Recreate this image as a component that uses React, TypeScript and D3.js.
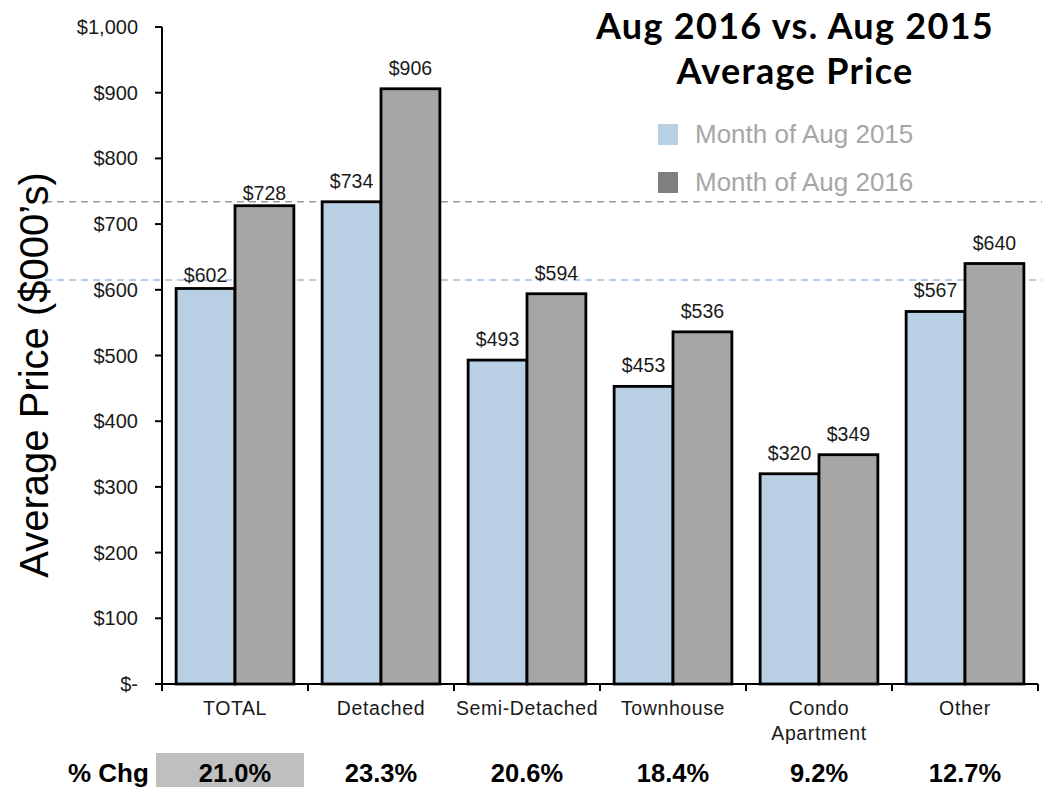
import React from "react";
import * as d3 from "d3";

const categories = ["TOTAL", "Detached", "Semi-Detached", "Townhouse", "Condo Apartment", "Other"];
const categoryLines = [["TOTAL"], ["Detached"], ["Semi-Detached"], ["Townhouse"], ["Condo", "Apartment"], ["Other"]];
const series2015 = [602, 734, 493, 453, 320, 567];
const series2016 = [728, 906, 594, 536, 349, 640];
const pctChange = ["21.0%", "23.3%", "20.6%", "18.4%", "9.2%", "12.7%"];
const yTicks = [0, 100, 200, 300, 400, 500, 600, 700, 800, 900, 1000];
const seriesNames = ["Month of Aug 2015", "Month of Aug 2016"];
const refLines = [
  { value: 734, color: "#9a9a9a" },
  { value: 615, color: "#9dbde0" },
];

const W = 1042;
const H = 787;
const COLORS = ["#b9cfe4", "#a6a6a6"];

const fmtTick = (v: number) => (v === 0 ? "$-" : "$" + d3.format(",")(v));

export default function App() {
  const y = d3.scaleLinear().domain([0, 1000]).range([684, 27]);
  const x = d3.scaleBand<string>().domain(categories).range([162, 1038]).paddingInner(0).paddingOuter(0);
  const sub = d3
    .scaleBand<string>()
    .domain(["2015", "2016"])
    .range([0, x.bandwidth()])
    .paddingInner(0)
    .paddingOuter(0.24);
  const series = [series2015, series2016];
  const keys = ["2015", "2016"];
  const boundaries = [...categories.map((c) => x(c) as number), x.range()[1]];
  const font = "Arial, 'Liberation Sans', sans-serif";
  const titleFont = "Lato, 'Open Sans', sans-serif";

  return (
    <svg
      width={W}
      height={H}
      style={{ position: "absolute", left: 0, top: 0, background: "#fff" }}
      fontFamily={font}
    >
      {/* reference dashed lines */}
      {refLines.map((r, i) => (
        <line
          key={"ref" + i}
          x1={45}
          x2={W}
          y1={y(r.value)}
          y2={y(r.value)}
          stroke={r.color}
          strokeWidth={1.5}
          strokeDasharray="7,5"
        />
      ))}

      {/* bars */}
      {categories.map((c, ci) =>
        keys.map((k, si) => {
          const v = series[si][ci];
          const bx = (x(c) as number) + (sub(k) as number);
          const bw = sub.bandwidth();
          const gap = ci === 0 ? 6 : 14;
          return (
            <g key={c + k}>
              <rect
                x={bx}
                y={y(v)}
                width={bw}
                height={y(0) - y(v)}
                fill={COLORS[si]}
                stroke="#000"
                strokeWidth={2.8}
              />
              <text
                x={bx + bw / 2}
                y={y(v) - gap}
                textAnchor="middle"
                fontSize={19.5}
                fill="#1a1a1a"
              >
                {"$" + v}
              </text>
            </g>
          );
        })
      )}

      {/* y axis */}
      <line x1={162} x2={162} y1={y(1000)} y2={y(0)} stroke="#000" strokeWidth={2} />
      {yTicks.map((t) => (
        <g key={"yt" + t}>
          <line x1={155} x2={162} y1={y(t)} y2={y(t)} stroke="#000" strokeWidth={2} />
          <text x={138} y={y(t) + 7} textAnchor="end" fontSize={20} fill="#1a1a1a">
            {fmtTick(t)}
          </text>
        </g>
      ))}

      {/* x axis */}
      <line x1={162} x2={1038} y1={y(0)} y2={y(0)} stroke="#000" strokeWidth={2} />
      {boundaries.map((b, i) => (
        <line key={"xt" + i} x1={b} x2={b} y1={y(0)} y2={y(0) + 7} stroke="#000" strokeWidth={2} />
      ))}
      {categories.map((c, ci) => (
        <text
          key={"xl" + c}
          x={(x(c) as number) + x.bandwidth() / 2}
          y={715}
          textAnchor="middle"
          fontSize={19.5}
          letterSpacing={0.6}
          fill="#1a1a1a"
        >
          {categoryLines[ci].map((line, li) => (
            <tspan key={li} x={(x(c) as number) + x.bandwidth() / 2} dy={li === 0 ? 0 : 25}>
              {line}
            </tspan>
          ))}
        </text>
      ))}

      {/* y axis title */}
      <text
        transform={`translate(48,375) rotate(-90)`}
        textAnchor="middle"
        fontSize={40}
        fill="#000"
      >
        Average Price ($000’s)
      </text>

      {/* title */}
      <text
        x={795}
        y={39}
        textAnchor="middle"
        fontSize={36}
        letterSpacing={1.3}
        fontWeight="bold"
        fontFamily={titleFont}
        fill="#000"
      >
        Aug 2016 vs. Aug 2015
      </text>
      <text
        x={795}
        y={84}
        textAnchor="middle"
        fontSize={36}
        letterSpacing={1.3}
        fontWeight="bold"
        fontFamily={titleFont}
        fill="#000"
      >
        Average Price
      </text>

      {/* legend */}
      {seriesNames.map((n, i) => (
        <g key={"lg" + i}>
          <rect x={658} y={124 + i * 48} width={20} height={21} fill={i === 0 ? COLORS[0] : "#808080"} />
          <text x={695} y={143 + i * 48} fontSize={26} fill="#a6a6a6">
            {n}
          </text>
        </g>
      ))}

      {/* % change row */}
      <rect x={(x("TOTAL") as number) - 6} y={753} width={148} height={34} fill="#bfbfbf" />
      <text x={68} y={782} fontSize={26} fontWeight="bold" fill="#000">
        % Chg
      </text>
      {categories.map((c, ci) => (
        <text
          key={"pc" + c}
          x={(x(c) as number) + x.bandwidth() / 2}
          y={782}
          textAnchor="middle"
          fontSize={25.5}
          fontWeight="bold"
          fill="#000"
        >
          {pctChange[ci]}
        </text>
      ))}
    </svg>
  );
}
